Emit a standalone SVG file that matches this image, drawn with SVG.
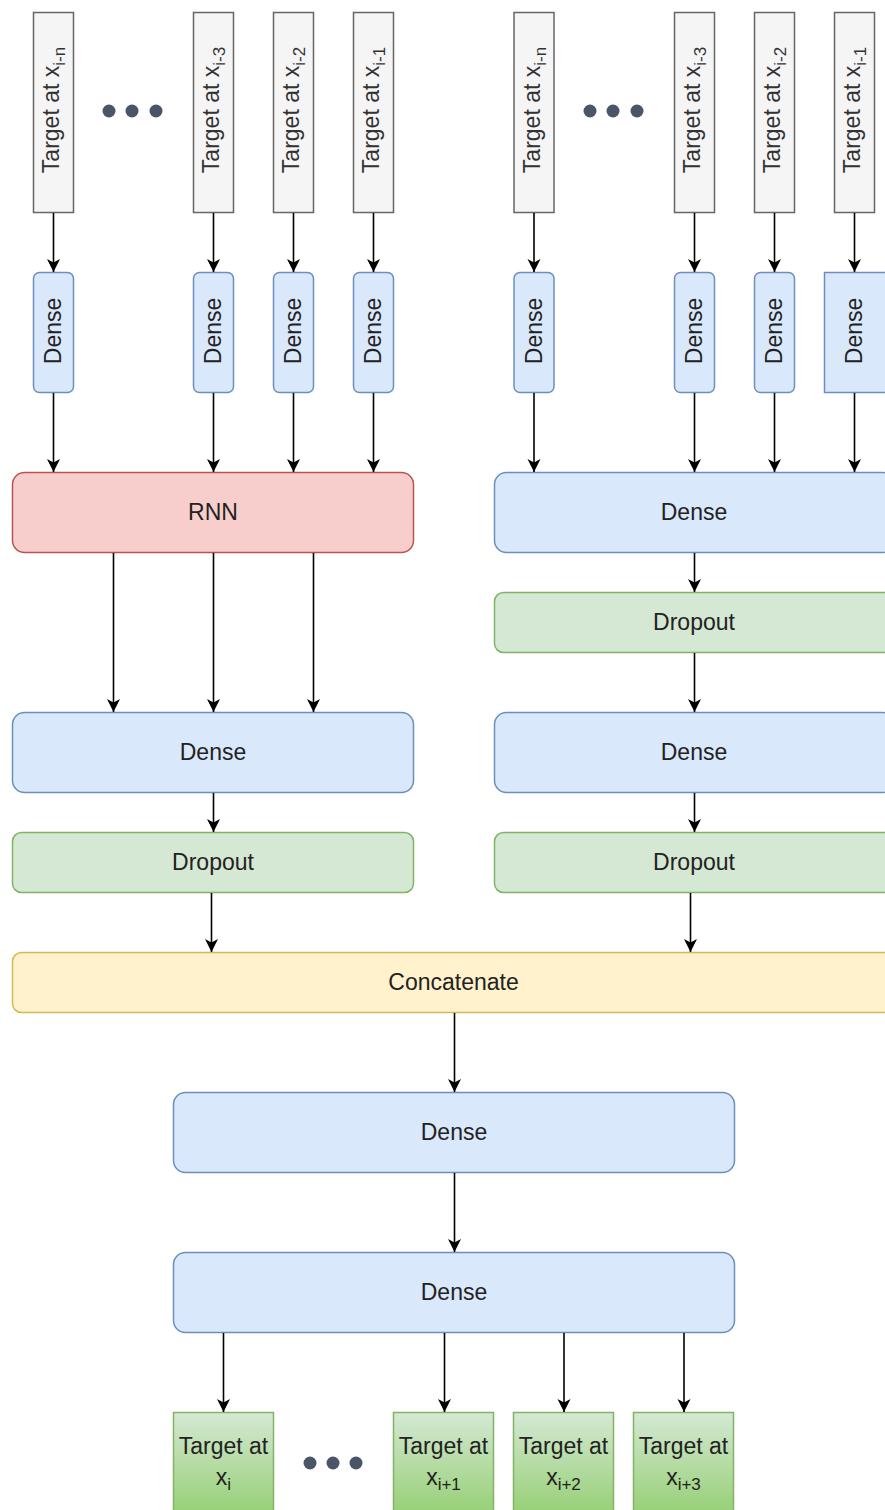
<svg xmlns="http://www.w3.org/2000/svg" width="885" height="1510" viewBox="0 0 885 1510">
  <style>
    text { font-family: "Liberation Sans", Arial, sans-serif; font-size: 23px; fill: #222222; }
    .sub { font-size: 17px; }
    .inp rect { fill: #f5f5f5; stroke: #666666; stroke-width: 1.5; }
    .inp text { fill: #333333; }
    .blue rect { fill: #dae8fc; stroke: #6c8ebf; stroke-width: 1.5; }
    .green rect { fill: #d5e8d4; stroke: #82b366; stroke-width: 1.5; }
    .red rect { fill: #f8cecc; stroke: #b85450; stroke-width: 1.5; }
    .yellow rect { fill: #fff2cc; stroke: #d6b656; stroke-width: 1.5; }
    .out rect { fill: url(#outGrad); stroke: #82b366; stroke-width: 1.5; }
    .dots circle { fill: #4a5568; }
    #connectors line { stroke: #000000; stroke-width: 1.6; marker-end: url(#arrow); }
  </style>
  <defs>
    <marker id="arrow" viewBox="0 0 14 14" refX="13" refY="7" markerWidth="14" markerHeight="14" markerUnits="userSpaceOnUse" orient="auto">
      <path d="M0,0.5 L13,7 L0,13.5 L3.5,7 Z" fill="#000000"/>
    </marker>
    <linearGradient id="outGrad" x1="0" y1="0" x2="0" y2="1">
      <stop offset="0" stop-color="#d5e8d4"/>
      <stop offset="1" stop-color="#97d077"/>
    </linearGradient>
  </defs>

  <!-- Left branch inputs -->
  <g id="inL1" class="inp"><rect x="33.5" y="12.5" width="40" height="200"/><text transform="translate(53,110) rotate(-90)" y="6" text-anchor="middle">Target at x<tspan class="sub" dy="6">i-n</tspan></text></g>
  <g id="inL2" class="inp"><rect x="193.5" y="12.5" width="40" height="200"/><text transform="translate(213,110) rotate(-90)" y="6" text-anchor="middle">Target at x<tspan class="sub" dy="6">i-3</tspan></text></g>
  <g id="inL3" class="inp"><rect x="273.5" y="12.5" width="40" height="200"/><text transform="translate(293,110) rotate(-90)" y="6" text-anchor="middle">Target at x<tspan class="sub" dy="6">i-2</tspan></text></g>
  <g id="inL4" class="inp"><rect x="353.5" y="12.5" width="40" height="200"/><text transform="translate(373,110) rotate(-90)" y="6" text-anchor="middle">Target at x<tspan class="sub" dy="6">i-1</tspan></text></g>
  <g id="dotsL" class="dots"><circle cx="109" cy="111" r="6.5"/><circle cx="132" cy="111" r="6.5"/><circle cx="156" cy="111" r="6.5"/></g>

  <!-- Right branch inputs -->
  <g id="inR1" class="inp"><rect x="514" y="12.5" width="40" height="200"/><text transform="translate(534,110) rotate(-90)" y="6" text-anchor="middle">Target at x<tspan class="sub" dy="6">i-n</tspan></text></g>
  <g id="inR2" class="inp"><rect x="674.5" y="12.5" width="40" height="200"/><text transform="translate(694,110) rotate(-90)" y="6" text-anchor="middle">Target at x<tspan class="sub" dy="6">i-3</tspan></text></g>
  <g id="inR3" class="inp"><rect x="754.5" y="12.5" width="40" height="200"/><text transform="translate(774,110) rotate(-90)" y="6" text-anchor="middle">Target at x<tspan class="sub" dy="6">i-2</tspan></text></g>
  <g id="inR4" class="inp"><rect x="834.5" y="12.5" width="40" height="200"/><text transform="translate(854,110) rotate(-90)" y="6" text-anchor="middle">Target at x<tspan class="sub" dy="6">i-1</tspan></text></g>
  <g id="dotsR" class="dots"><circle cx="590" cy="111" r="6.5"/><circle cx="613" cy="111" r="6.5"/><circle cx="637" cy="111" r="6.5"/></g>

  <!-- Per-step dense layers -->
  <g id="dL1" class="blue"><rect x="33.5" y="272.5" width="40" height="120" rx="6"/><text transform="translate(53,331) rotate(-90)" y="8" text-anchor="middle">Dense</text></g>
  <g id="dL2" class="blue"><rect x="193.5" y="272.5" width="40" height="120" rx="6"/><text transform="translate(213,331) rotate(-90)" y="8" text-anchor="middle">Dense</text></g>
  <g id="dL3" class="blue"><rect x="273.5" y="272.5" width="40" height="120" rx="6"/><text transform="translate(293,331) rotate(-90)" y="8" text-anchor="middle">Dense</text></g>
  <g id="dL4" class="blue"><rect x="353.5" y="272.5" width="40" height="120" rx="6"/><text transform="translate(373,331) rotate(-90)" y="8" text-anchor="middle">Dense</text></g>
  <g id="dR1" class="blue"><rect x="514" y="272.5" width="40" height="120" rx="6"/><text transform="translate(534,331) rotate(-90)" y="8" text-anchor="middle">Dense</text></g>
  <g id="dR2" class="blue"><rect x="674.5" y="272.5" width="40" height="120" rx="6"/><text transform="translate(694,331) rotate(-90)" y="8" text-anchor="middle">Dense</text></g>
  <g id="dR3" class="blue"><rect x="754.5" y="272.5" width="40" height="120" rx="6"/><text transform="translate(774,331) rotate(-90)" y="8" text-anchor="middle">Dense</text></g>
  <g id="dR4" class="blue"><rect x="824.5" y="272.5" width="70" height="120"/><text transform="translate(854,331) rotate(-90)" y="8" text-anchor="middle">Dense</text></g>

  <!-- Left branch body -->
  <g id="rnn" class="red"><rect x="12.5" y="472.5" width="401" height="80" rx="12"/><text x="213" y="520" text-anchor="middle">RNN</text></g>
  <g id="denseL" class="blue"><rect x="12.5" y="712.5" width="401" height="80" rx="12"/><text x="213" y="760" text-anchor="middle">Dense</text></g>
  <g id="dropL" class="green"><rect x="12.5" y="832.5" width="401" height="60" rx="9"/><text x="213" y="870" text-anchor="middle">Dropout</text></g>

  <!-- Right branch body -->
  <g id="denseR1" class="blue"><rect x="494.5" y="472.5" width="400" height="80" rx="12"/><text x="694" y="520" text-anchor="middle">Dense</text></g>
  <g id="dropR1" class="green"><rect x="494.5" y="592.5" width="400" height="60" rx="9"/><text x="694" y="630" text-anchor="middle">Dropout</text></g>
  <g id="denseR2" class="blue"><rect x="494.5" y="712.5" width="400" height="80" rx="12"/><text x="694" y="760" text-anchor="middle">Dense</text></g>
  <g id="dropR2" class="green"><rect x="494.5" y="832.5" width="400" height="60" rx="9"/><text x="694" y="870" text-anchor="middle">Dropout</text></g>

  <!-- Merge and head -->
  <g id="concat" class="yellow"><rect x="12.5" y="952.5" width="883" height="60" rx="9"/><text x="453.5" y="990" text-anchor="middle">Concatenate</text></g>
  <g id="denseH1" class="blue"><rect x="173.5" y="1092.5" width="561" height="80" rx="12"/><text x="454" y="1140" text-anchor="middle">Dense</text></g>
  <g id="denseH2" class="blue"><rect x="173.5" y="1252.5" width="561" height="80" rx="12"/><text x="454" y="1300" text-anchor="middle">Dense</text></g>

  <!-- Outputs -->
  <g id="out0" class="out"><rect x="173.5" y="1412.5" width="100" height="100"/><text x="223.5" y="1454" text-anchor="middle">Target at</text><text x="223.5" y="1485" text-anchor="middle">x<tspan class="sub" dy="5">i</tspan></text></g>
  <g id="dotsOut" class="dots"><circle cx="310" cy="1463" r="6.5"/><circle cx="333" cy="1463" r="6.5"/><circle cx="356" cy="1463" r="6.5"/></g>
  <g id="out1" class="out"><rect x="393.5" y="1412.5" width="100" height="100"/><text x="443.5" y="1454" text-anchor="middle">Target at</text><text x="443.5" y="1485" text-anchor="middle">x<tspan class="sub" dy="5">i+1</tspan></text></g>
  <g id="out2" class="out"><rect x="513.5" y="1412.5" width="100" height="100"/><text x="563.5" y="1454" text-anchor="middle">Target at</text><text x="563.5" y="1485" text-anchor="middle">x<tspan class="sub" dy="5">i+2</tspan></text></g>
  <g id="out3" class="out"><rect x="633.5" y="1412.5" width="100" height="100"/><text x="683.5" y="1454" text-anchor="middle">Target at</text><text x="683.5" y="1485" text-anchor="middle">x<tspan class="sub" dy="5">i+3</tspan></text></g>

  <g id="connectors">
    <!-- inputs to per-step dense -->
    <line x1="53.5" y1="213" x2="53.5" y2="272"/>
    <line x1="213.5" y1="213" x2="213.5" y2="272"/>
    <line x1="293.5" y1="213" x2="293.5" y2="272"/>
    <line x1="373.5" y1="213" x2="373.5" y2="272"/>
    <line x1="534" y1="213" x2="534" y2="272"/>
    <line x1="694.5" y1="213" x2="694.5" y2="272"/>
    <line x1="774.5" y1="213" x2="774.5" y2="272"/>
    <line x1="854.5" y1="213" x2="854.5" y2="272"/>
    <!-- per-step dense to RNN / dense -->
    <line x1="53.5" y1="393" x2="53.5" y2="472"/>
    <line x1="213.5" y1="393" x2="213.5" y2="472"/>
    <line x1="293.5" y1="393" x2="293.5" y2="472"/>
    <line x1="373.5" y1="393" x2="373.5" y2="472"/>
    <line x1="534" y1="393" x2="534" y2="472"/>
    <line x1="694.5" y1="393" x2="694.5" y2="472"/>
    <line x1="774.5" y1="393" x2="774.5" y2="472"/>
    <line x1="854.5" y1="393" x2="854.5" y2="472"/>
    <!-- left branch -->
    <line x1="113.5" y1="553" x2="113.5" y2="712"/>
    <line x1="213.5" y1="553" x2="213.5" y2="712"/>
    <line x1="313.5" y1="553" x2="313.5" y2="712"/>
    <line x1="213.5" y1="793" x2="213.5" y2="832"/>
    <line x1="211.5" y1="893" x2="211.5" y2="952"/>
    <!-- right branch -->
    <line x1="694.5" y1="553" x2="694.5" y2="592"/>
    <line x1="694.5" y1="653" x2="694.5" y2="712"/>
    <line x1="694.5" y1="793" x2="694.5" y2="832"/>
    <line x1="690.5" y1="893" x2="690.5" y2="952"/>
    <!-- head -->
    <line x1="454.5" y1="1013" x2="454.5" y2="1092"/>
    <line x1="454.5" y1="1173" x2="454.5" y2="1252"/>
    <line x1="223.5" y1="1333" x2="223.5" y2="1412"/>
    <line x1="444.5" y1="1333" x2="444.5" y2="1412"/>
    <line x1="564" y1="1333" x2="564" y2="1412"/>
    <line x1="684" y1="1333" x2="684" y2="1412"/>
  </g>
</svg>
